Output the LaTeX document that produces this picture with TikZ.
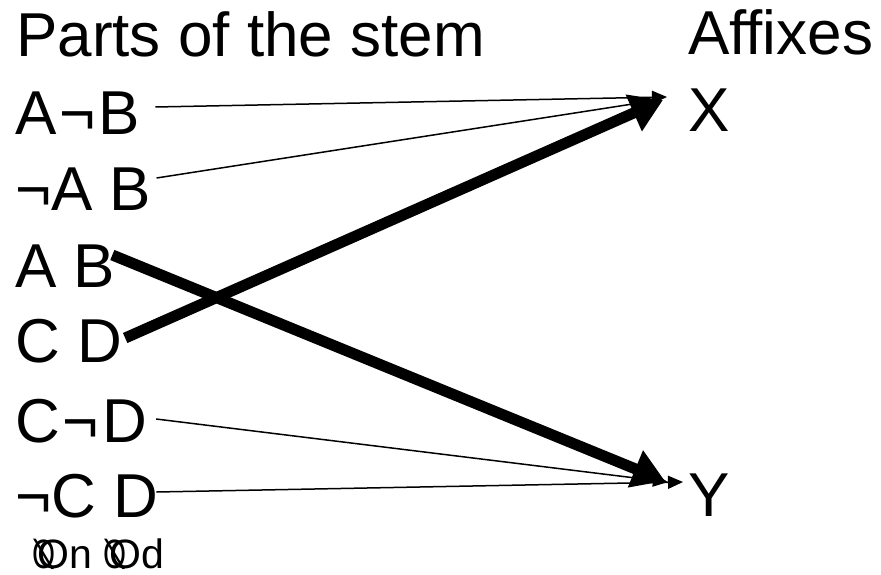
\documentclass[tikz,border=0pt]{standalone}
\usepackage{fontspec}
\setmainfont{Liberation Sans}
\usepackage{graphicx}
\usepackage{tikz}
\usetikzlibrary{arrows.meta,positioning,calc}

\newcommand{\nullO}{\rlap{\scalebox{0.72}[1]{\reflectbox{Ø}}}\kern0.14em O}
\newcommand{\negsign}{\kern3pt¬\kern3pt}

\begin{document}
\begin{tikzpicture}[x=1pt, y=-1pt,
    big/.style={anchor=base west, inner sep=0pt, font=\fontsize{62}{62}\selectfont},
    small/.style={anchor=base west, inner sep=0pt, font=\fontsize{41}{41}\selectfont},
    thin link/.style={line width=1.5pt, -{Triangle[length=15pt, width=13pt]}},
    thick link/.style={line width=11pt, -{Triangle[length=32pt, width=38pt]}}]
  \useasboundingbox (0,0) rectangle (881,575);
  % headings
  \node[big] (title)   at (16,57)  {Parts of the stem};
  \node[big] (affixes) at (688,55) {Affixes};
  % stem parts
  \node[big] (anb) at (15,135) {A\negsign B};
  \node[big] (nab) at (15,210) {¬A B};
  \node[big] (ab)  at (15,287) {A B};
  \node[big] (cd)  at (15,362) {C D};
  \node[big] (cnd) at (15,442) {C\negsign D};
  \node[big] (ncd) at (15,517) {¬C D};
  \node[small] (nulls) at (32,568) {\nullO n \nullO d};
  % affixes
  \node[big] (X) at (688,132) {X};
  \node[big] (Y) at (688,516) {Y};
  % links
  \draw[thin link]  ($(anb.base east)+(15,-28)$) -- ($(X.base west)+(-21,-35)$);
  \draw[thin link]  ($(nab.base east)+(5,-32)$)  -- ($(X.base west)+(-36,-31)$);
  \draw[thin link]  ($(cnd.base east)+(9,-23)$)  -- ($(Y.base west)+(-20,-34)$);
  \draw[thin link]  ($(ncd.base east)+(-2,-25)$) -- ($(Y.base west)+(-5,-34)$);
  \draw[thick link] ($(cd.base east)+(3,-24)$)   -- ($(X.base west)+(-25,-32)$);
  \draw[thick link] ($(ab.base east)+(-3,-32)$)  -- ($(Y.base west)+(-23,-35)$);
\end{tikzpicture}
\end{document}
